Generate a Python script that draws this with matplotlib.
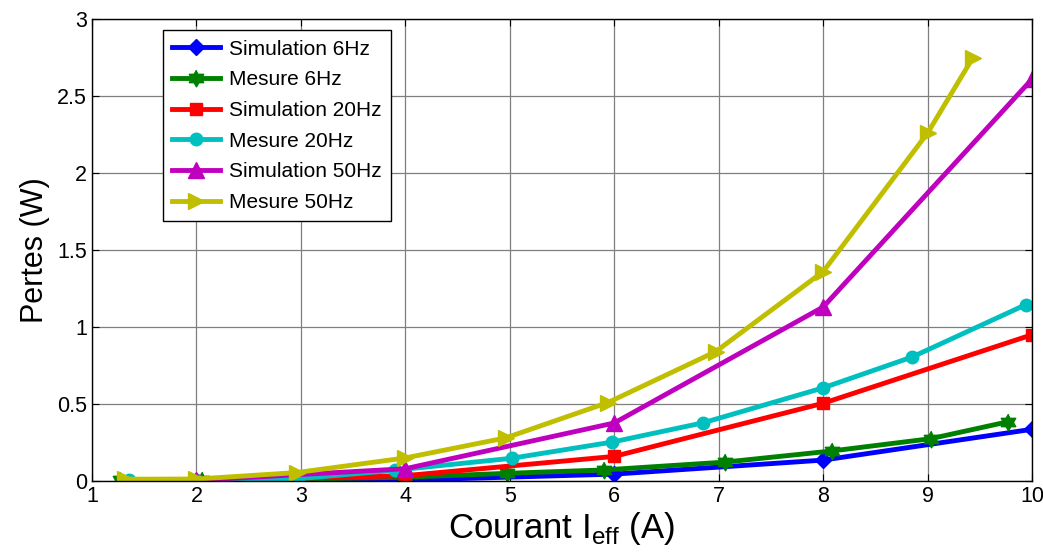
import numpy as np
import matplotlib
matplotlib.use("Agg")
import matplotlib.pyplot as plt

plt.rcParams['font.family'] = ['Liberation Sans', 'DejaVu Sans']
plt.rcParams['mathtext.fontset'] = 'custom'
plt.rcParams['mathtext.rm'] = 'Liberation Sans'

# Data
sim6_x = [2, 4, 6, 8, 10]
sim6_y = [0.002, 0.006, 0.045, 0.136, 0.336]
mes6_x = [1.27, 2.05, 2.97, 4.0, 4.97, 5.9, 7.06, 8.08, 9.03, 9.77]
mes6_y = [0.005, 0.01, 0.012, 0.025, 0.05, 0.072, 0.123, 0.195, 0.275, 0.385]
sim20_x = [2, 4, 6, 8, 10]
sim20_y = [0.003, 0.035, 0.16, 0.505, 0.95]
mes20_x = [1.35, 2.0, 2.97, 3.9, 5.02, 5.98, 6.85, 8.0, 8.85, 9.94]
mes20_y = [0.008, 0.01, 0.015, 0.07, 0.148, 0.253, 0.378, 0.605, 0.805, 1.145]
sim50_x = [2, 4, 6, 8, 10]
sim50_y = [0.005, 0.08, 0.377, 1.13, 2.61]
mes50_x = [1.32, 2.0, 2.96, 4.0, 4.96, 5.94, 6.97, 8.0, 9.0, 9.43]
mes50_y = [0.012, 0.013, 0.055, 0.15, 0.28, 0.51, 0.84, 1.36, 2.26, 2.745]

labels = ['Simulation 6Hz', 'Mesure 6Hz', 'Simulation 20Hz', 'Mesure 20Hz',
          'Simulation 50Hz', 'Mesure 50Hz']

# hexagram marker
ang = np.pi / 2 + np.arange(12) * np.pi / 6
rad = np.where(np.arange(12) % 2 == 0, 1.0, 0.58)
hexagram = list(zip(rad * np.cos(ang), rad * np.sin(ang)))

fig = plt.figure(figsize=(10.43, 5.6), dpi=100)
ax = fig.add_axes([0.0882, 0.141, 0.9013, 0.825])

lw = 3.5
series = [
    (sim6_x, sim6_y, (0, 0, 1), 'D', 8),
    (mes6_x, mes6_y, (0, 0.5, 0), hexagram, 12),
    (sim20_x, sim20_y, (1, 0, 0), 's', 9),
    (mes20_x, mes20_y, (0, 0.75, 0.75), 'o', 9),
    (sim50_x, sim50_y, (0.75, 0, 0.75), '^', 12),
    (mes50_x, mes50_y, (0.75, 0.75, 0), '>', 12),
]
for (x, y, c, m, ms), lab in zip(series, labels):
    ax.plot(x, y, color=c, lw=lw, marker=m, ms=ms, mfc=c, mec=c, label=lab)

ax.set_xlim(1, 10)
ax.set_ylim(0, 3)
ax.set_xticks(range(1, 11))
ax.set_yticks([0, 0.5, 1, 1.5, 2, 2.5, 3])
ax.set_yticklabels(['0', '0.5', '1', '1.5', '2', '2.5', '3'])
ax.grid(True, color='#7f7f7f', lw=0.9)
ax.set_axisbelow(True)
ax.tick_params(direction='in', top=True, right=True, labelsize=15.5, length=5)
for s in ax.spines.values():
    s.set_linewidth(1.0)

ax.set_xlabel(r'Courant I$_\mathregular{eff}$ (A)', fontsize=25, labelpad=2)
ax.set_ylabel('Pertes (W)', fontsize=22, labelpad=5)

leg = ax.legend(loc='upper left', bbox_to_anchor=(0.0755, 0.976), borderaxespad=0,
                fontsize=15, fancybox=False, framealpha=1, edgecolor='black',
                handlelength=2.3, labelspacing=0.56, borderpad=0.45, handletextpad=0.4)
leg.get_frame().set_linewidth(1.0)

fig.savefig('out.png', dpi=100)
